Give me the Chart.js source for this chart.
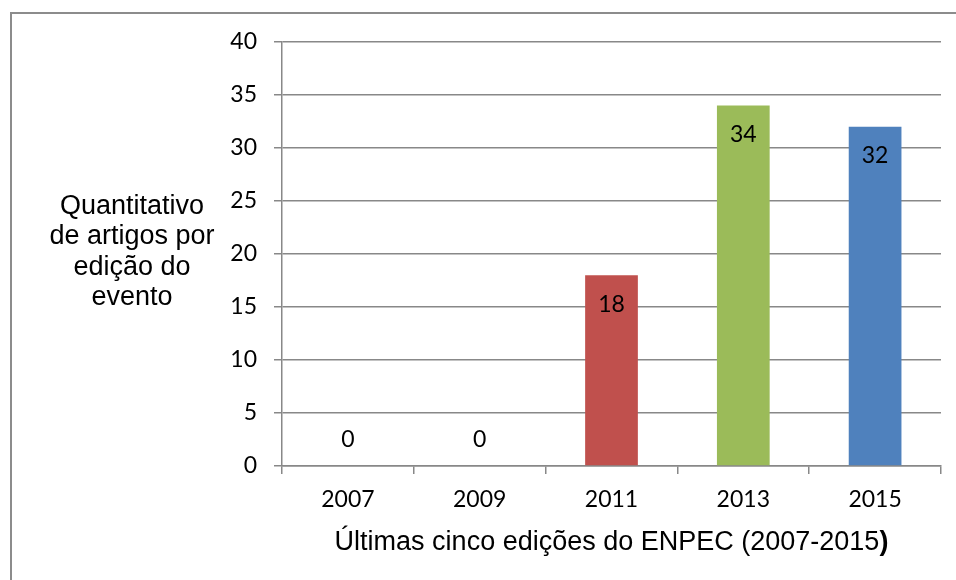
<!DOCTYPE html>
<html>
<head>
<meta charset="utf-8">
<script src="https://cdn.jsdelivr.net/npm/chart.js@4"></script>
<style>
    html, body { margin: 0; padding: 0; background: #fff; overflow: hidden; }
    #wrap { width: 956px; height: 580px; position: relative; }
</style>
</head>
<body>
<div id="wrap"><canvas id="myChart" width="956" height="580"></canvas></div>
<script>
// data
const years = ['2007', '2009', '2011', '2013', '2015'];
const articles = [0, 0, 18, 34, 32];
const barColors = ['#4F81BD', '#C0504D', '#C0504D', '#9BBB59', '#4F81BD'];
const yTicks = [0, 5, 10, 15, 20, 25, 30, 35, 40];
const yTitleLines = ['Quantitativo', 'de artigos por', 'edição do', 'evento'];
const xTitle = 'Últimas cinco edições do ENPEC (2007-2015';
const xTitleEnd = ')';

const gridColor = '#888888';
const tickFont = { family: 'Lato', size: 23 };

// outer frame, axis titles and value labels drawn by hand
const extras = {
    id: 'extras',
    beforeDraw(chart) {
        const c = chart.ctx;
        c.save();
        c.fillStyle = '#fff';
        c.fillRect(0, 0, chart.width, chart.height);
        c.strokeStyle = '#8c8c8c';
        c.lineWidth = 2;
        c.strokeRect(11, 13, 2000, 2000);
        c.restore();
    },
    afterDraw(chart) {
        const c = chart.ctx;
        const area = chart.chartArea;
        c.save();
        c.fillStyle = '#000';

        // y title, horizontal, several lines
        c.font = '27px "Liberation Sans", Arial, sans-serif';
        c.textAlign = 'center';
        c.textBaseline = 'middle';
        const midY = (area.top + area.bottom) / 2 - 2;
        const lh = 30.5;
        yTitleLines.forEach((line, i) => {
            c.fillText(line, area.left - 150, midY + (i - (yTitleLines.length - 1) / 2) * lh);
        });

        // x title with bold closing paren
        c.textAlign = 'left';
        c.textBaseline = 'alphabetic';
        c.font = '27px "Liberation Sans", Arial, sans-serif';
        const w1 = c.measureText(xTitle).width;
        c.font = 'bold 27px "Liberation Sans", Arial, sans-serif';
        const w2 = c.measureText(xTitleEnd).width;
        const x0 = (area.left + area.right) / 2 - (w1 + w2) / 2;
        c.font = '27px "Liberation Sans", Arial, sans-serif';
        c.fillText(xTitle, x0, 550);
        c.font = 'bold 27px "Liberation Sans", Arial, sans-serif';
        c.fillText(xTitleEnd, x0 + w1, 550);

        // value labels, inside end
        c.font = '23px Lato';
        c.textAlign = 'center';
        c.textBaseline = 'middle';
        const meta = chart.getDatasetMeta(0);
        meta.data.forEach((bar, i) => {
            const v = chart.data.datasets[0].data[i];
            const y = v > 0 ? bar.y + 29 : bar.base - 26;
            c.fillText(String(v), bar.x, y);
        });
        c.restore();
    }
};

const ctx = document.getElementById('myChart');
const chart = new Chart(ctx, {
    type: 'bar',
    data: {
        labels: years,
        datasets: [{
            data: articles,
            backgroundColor: barColors,
            borderWidth: 0,
            barPercentage: 0.4,
            categoryPercentage: 1
        }]
    },
    options: {
        responsive: false,
        animation: false,
        layout: { padding: { top: 42, right: 15, left: 0, bottom: 0 } },
        plugins: {
            legend: { display: false },
            tooltip: { enabled: false }
        },
        scales: {
            y: {
                min: 0,
                max: 40,
                afterBuildTicks(scale) {
                    scale.ticks = yTicks.map(v => ({ value: v }));
                },
                afterFit(scale) { scale.width = 282; },
                ticks: { color: '#000', font: tickFont, padding: 17 },
                grid: { color: gridColor, lineWidth: 1.5, tickLength: 8 },
                border: { color: gridColor, width: 1.5 }
            },
            x: {
                afterFit(scale) { scale.height = 114; },
                ticks: { color: '#000', font: tickFont, padding: 12 },
                grid: { drawOnChartArea: false, color: gridColor, lineWidth: 1.5, tickLength: 8 },
                border: { color: gridColor, width: 1.5 }
            }
        }
    },
    plugins: [extras]
});
</script>
</body>
</html>
